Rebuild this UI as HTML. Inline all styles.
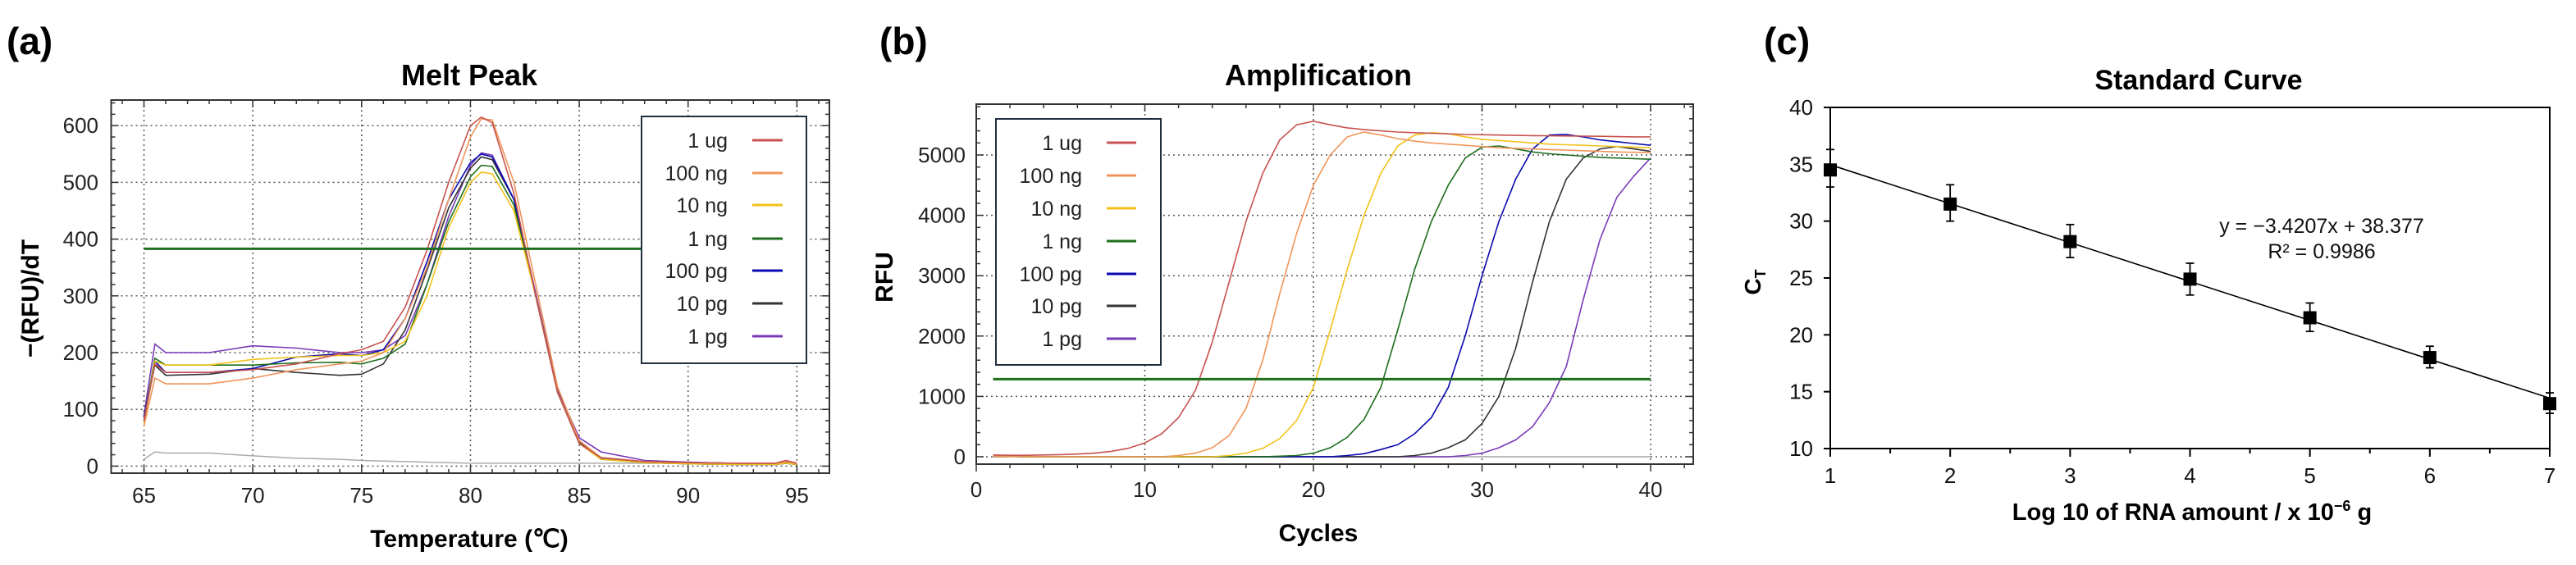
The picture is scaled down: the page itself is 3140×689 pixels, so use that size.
<!DOCTYPE html>
<html><head><meta charset="utf-8"><style>
html,body{margin:0;padding:0;background:#fff;}
svg{display:block;font-family:"Liberation Sans",Arial,sans-serif;}
</style></head><body>
<svg id="fig" width="3140" height="689" viewBox="0 0 3140 689" xmlns="http://www.w3.org/2000/svg">
<rect width="3140" height="689" fill="#fff"/>
<g id="pa"></g>
<g id="pb"></g>
<g id="pc"></g>
</svg>
<script>
// ---------- data ----------
const seriesNames = ["1 ug","100 ng","10 ng","1 ng","100 pg","10 pg","1 pg"];
const seriesColors = ["#c8524f","#f0955a","#f2c21a","#1e6e1e","#0a0ab0","#333333","#7a3ab8"];
// Melt peak
const meltTemps = [65,65.5,66,68,70,72,74,75,76,77,78,79,80,80.5,81,82,83,84,85,86,88,90,92,94,94.5,95];
const melt1ug  = [80,180,165,165,170,180,198,205,220,280,380,500,600,615,605,480,300,130,40,15,8,6,5,5,10,5];
const melt100ng= [70,155,145,145,155,170,180,185,200,260,350,470,580,612,610,500,320,140,45,15,8,6,5,5,8,4];
const melt10ng = [75,185,178,178,188,192,195,195,200,220,300,420,500,518,515,450,300,130,40,12,6,4,3,3,5,3];
const melt1ng  = [80,190,178,178,178,182,183,180,190,215,320,430,510,530,528,460,300,130,40,12,6,4,3,3,5,3];
const melt100pg= [85,185,165,165,172,192,198,195,205,260,360,470,535,550,545,470,300,130,40,13,6,4,3,3,5,3];
const melt10pg = [85,178,160,162,172,165,160,162,180,240,345,455,525,545,540,470,300,130,42,14,7,5,3,3,5,3];
const melt1pg  = [90,215,200,200,212,208,200,200,205,230,320,440,530,552,548,470,305,135,50,25,10,7,5,4,6,4];
const meltNtc  = [12,25,23,23,18,14,12,10,9,8,7,6,5,5,5,5,5,5,5,5,5,5,5,5,5,5];
const meltThreshold = 383;
const meltXTicks = [65,70,75,80,85,90,95];
const meltYTicks = [0,100,200,300,400,500,600];
// Amplification
const cycles = [1,2,3,4,5,6,7,8,9,10,11,12,13,14,15,16,17,18,19,20,21,22,23,24,25,26,27,28,29,30,31,32,33,34,35,36,37,38,39,40];
const amp1ug  = [30,25,25,30,35,45,60,90,140,230,380,650,1100,1900,2900,3900,4700,5250,5500,5560,5500,5450,5420,5400,5380,5370,5360,5350,5340,5335,5330,5325,5320,5318,5315,5312,5310,5305,5300,5300];
const amp100ng= [10,5,5,0,0,0,0,0,0,0,0,20,60,150,350,800,1600,2700,3700,4500,5000,5300,5380,5330,5270,5230,5200,5180,5160,5140,5120,5110,5100,5090,5080,5070,5060,5050,5045,5040];
const amp10ng = [10,5,0,0,0,0,0,0,0,0,0,0,0,0,20,60,140,300,600,1150,2100,3100,4000,4700,5150,5330,5370,5350,5300,5260,5240,5220,5200,5180,5170,5160,5150,5140,5130,5120];
const amp1ng  = [10,5,0,0,0,0,0,0,0,0,0,0,0,0,0,0,0,10,20,60,150,320,620,1150,2100,3100,3900,4500,4950,5130,5150,5100,5050,5020,5000,4980,4960,4950,4940,4930];
const amp100pg= [10,5,0,0,0,0,0,0,0,0,0,0,0,0,0,0,0,0,0,0,0,20,50,120,200,380,650,1150,2000,3000,3900,4600,5100,5330,5340,5300,5250,5220,5190,5160];
const amp10pg = [10,5,0,0,0,0,0,0,0,0,0,0,0,0,0,0,0,0,0,0,0,0,0,0,0,20,60,150,280,550,1000,1800,2900,3900,4600,4950,5100,5140,5100,5060];
const amp1pg  = [10,5,0,0,0,0,0,0,0,0,0,0,0,0,0,0,0,0,0,0,0,0,0,0,0,0,0,0,20,60,150,280,500,900,1500,2600,3600,4300,4650,4950];
const ampThreshold = 1285;
const ampXTicks = [0,10,20,30,40];
const ampYTicks = [0,1000,2000,3000,4000,5000];
// Standard curve
const logAmount = [1,2,3,4,5,6,7];
const ctValues = [34.5,31.5,28.2,24.9,21.5,18.0,13.95];
const ctErrLow = [33.0,30.0,26.8,23.5,20.3,17.1,13.1];
const ctErrHigh = [36.3,33.2,29.7,26.3,22.8,19.0,14.9];
const fitSlope = -3.4207;
const fitIntercept = 38.377;
const stdXTicks = [1,2,3,4,5,6,7];
const stdYTicks = [10,15,20,25,30,35,40];

const NS="http://www.w3.org/2000/svg";
function mk(parent,tag,attrs,text){const e=document.createElementNS(NS,tag);for(const k in attrs)e.setAttribute(k,attrs[k]);if(text!==undefined)e.textContent=text;parent.appendChild(e);return e;}

// ---------- Panel A ----------
(function(){
const g=document.getElementById('pa');
const L=135.5,R=1011,T=122,B=577;
const xa=t=>175.5+(t-65)*26.53, ya=v=>568.4-v*0.692;
let e;
e=mk(g,'text',{x:8,y:66,'font-size':46,'font-weight':'bold'},'(a)');


e=mk(g,'text',{x:572,y:104,'font-size':36,'font-weight':'bold','text-anchor':'middle'},'Melt Peak');


meltXTicks.forEach(t=>{const l=mk(g,'line',{x1:xa(t),x2:xa(t),y1:T,y2:B,stroke:'#555','stroke-width':1.5,'stroke-dasharray':'2,4'});});
meltYTicks.forEach(v=>{const l=mk(g,'line',{x1:L,x2:R,y1:ya(v),y2:ya(v),stroke:'#555','stroke-width':1.5,'stroke-dasharray':'2,4'});});
for(let t=63;t<=97;t++){const x=xa(t);if(x<L||x>R)continue;const len=(t%5===0)?9:5;mk(g,'line',{x1:x,x2:x,y1:B,y2:B-len,stroke:'#333','stroke-width':1.5});mk(g,'line',{x1:x,x2:x,y1:T,y2:T+len,stroke:'#333','stroke-width':1.5});}
for(let v=-20;v<=660;v+=20){const y=ya(v);if(y<T||y>B)continue;const len=(v%100===0)?9:5;mk(g,'line',{x1:L,x2:L+len,y1:y,y2:y,stroke:'#333','stroke-width':1.5});mk(g,'line',{x1:R,x2:R-len,y1:y,y2:y,stroke:'#333','stroke-width':1.5});}
e=mk(g,'rect',{x:L,y:T,width:R-L,height:B-T,fill:'none',stroke:'#333','stroke-width':2});


meltXTicks.forEach(t=>{const x=mk(g,'text',{x:xa(t),y:613,'font-size':26,'text-anchor':'middle',fill:'#222'},t);});
meltYTicks.forEach(v=>{const x=mk(g,'text',{x:120,y:ya(v)+9,'font-size':26,'text-anchor':'end',fill:'#222'},v);});
e=mk(g,'text',{x:572,y:667,'font-size':30,'font-weight':'bold','text-anchor':'middle'},'Temperature (℃)');


e=mk(g,'text',{x:0,y:0,'font-size':30,'font-weight':'bold','text-anchor':'middle',transform:'translate(47,364) rotate(-90)'},'−(RFU)/dT');


const pts=arr=>arr.map((v,i)=>xa(meltTemps[i]).toFixed(1)+','+ya(v).toFixed(1)).join(' ');
e=mk(g,'polyline',{points:pts(meltNtc),fill:'none',stroke:'#aaa','stroke-width':1.5});


const all=[melt1ug,melt100ng,melt10ng,melt1ng,melt100pg,melt10pg,melt1pg];
for(let i=all.length-1;i>=0;i--){const p=mk(g,'polyline',{points:pts(all[i]),fill:'none',stroke:seriesColors[i],'stroke-width':1.6});}
e=mk(g,'line',{x1:xa(65),x2:xa(95),y1:ya(meltThreshold),y2:ya(meltThreshold),stroke:'#1e6e1e','stroke-width':3});


const lg=mk(g,'g',{});


mk(lg,'rect',{x:782,y:142,width:201,height:301,fill:'#fff',stroke:'#1f2f3f','stroke-width':2});
const ly=[171,211,250,291,330,370,410];
seriesNames.forEach((n,i)=>{const t=mk(lg,'text',{x:887,y:ly[i]+9,'font-size':25,'text-anchor':'end',fill:'#222'},n);mk(lg,'line',{x1:917,x2:954,y1:ly[i],y2:ly[i],stroke:seriesColors[i],'stroke-width':3});});
})();

// ---------- Panel B ----------
(function(){
const g=document.getElementById('pb');
const L=1190,R=2064,T=127,B=566;
const xb=c=>1190+c*20.55, yb=v=>557-v*0.0736;
let e;
e=mk(g,'text',{x:1072,y:66,'font-size':46,'font-weight':'bold'},'(b)');


e=mk(g,'text',{x:1607,y:104,'font-size':36,'font-weight':'bold','text-anchor':'middle'},'Amplification');


ampXTicks.forEach(c=>{if(c===0)return;const l=mk(g,'line',{x1:xb(c),x2:xb(c),y1:T,y2:B,stroke:'#555','stroke-width':1.5,'stroke-dasharray':'2,4'});});
ampYTicks.forEach(v=>{const l=mk(g,'line',{x1:L,x2:R,y1:yb(v),y2:yb(v),stroke:'#555','stroke-width':1.5,'stroke-dasharray':'2,4'});});
for(let c=0;c<=42;c+=2){const x=xb(c);if(x>R)continue;const len=(c%10===0)?9:5;mk(g,'line',{x1:x,x2:x,y1:B,y2:B+len,stroke:'#333','stroke-width':1.5});mk(g,'line',{x1:x,x2:x,y1:T,y2:T+len,stroke:'#333','stroke-width':1.5});}
for(let v=0;v<=5800;v+=200){const y=yb(v);if(y<T)continue;const len=(v%1000===0)?9:5;mk(g,'line',{x1:L,x2:L+len,y1:y,y2:y,stroke:'#333','stroke-width':1.5});mk(g,'line',{x1:R,x2:R-len,y1:y,y2:y,stroke:'#333','stroke-width':1.5});}
e=mk(g,'rect',{x:L,y:T,width:R-L,height:B-T,fill:'none',stroke:'#333','stroke-width':2});


ampXTicks.forEach(c=>{const x=mk(g,'text',{x:xb(c),y:606,'font-size':26,'text-anchor':'middle',fill:'#222'},c);});
ampYTicks.forEach(v=>{const x=mk(g,'text',{x:1177,y:yb(v)+9,'font-size':26,'text-anchor':'end',fill:'#222'},v);});
e=mk(g,'text',{x:1607,y:660,'font-size':30,'font-weight':'bold','text-anchor':'middle'},'Cycles');


e=mk(g,'text',{x:0,y:0,'font-size':30,'font-weight':'bold','text-anchor':'middle',transform:'translate(1088,338) rotate(-90)'},'RFU');


e=mk(g,'line',{x1:xb(1),x2:xb(40),y1:yb(0),y2:yb(0),stroke:'#bbb','stroke-width':2});


const pts=arr=>arr.map((v,i)=>xb(cycles[i]).toFixed(1)+','+yb(v).toFixed(1)).join(' ');
const all=[amp1ug,amp100ng,amp10ng,amp1ng,amp100pg,amp10pg,amp1pg];
for(let i=all.length-1;i>=0;i--){const p=mk(g,'polyline',{points:pts(all[i]),fill:'none',stroke:seriesColors[i],'stroke-width':1.6});}
e=mk(g,'line',{x1:xb(1),x2:xb(40),y1:yb(ampThreshold),y2:yb(ampThreshold),stroke:'#1e6e1e','stroke-width':3});


const lg=mk(g,'g',{});


mk(lg,'rect',{x:1214,y:145,width:201,height:300,fill:'#fff',stroke:'#1f2f3f','stroke-width':2});
const ly=[174,214,254,294,334,373,413];
seriesNames.forEach((n,i)=>{const t=mk(lg,'text',{x:1319,y:ly[i]+9,'font-size':25,'text-anchor':'end',fill:'#222'},n);mk(lg,'line',{x1:1349,x2:1385,y1:ly[i],y2:ly[i],stroke:seriesColors[i],'stroke-width':3});});
})();

// ---------- Panel C ----------
(function(){
const g=document.getElementById('pc');
const L=2231,R=3108,T=131,B=547;
const xc=x=>L+(x-1)*(R-L)/6, yc=v=>B-(v-10)*(B-T)/30;
let e;
e=mk(g,'text',{x:2150,y:66,'font-size':46,'font-weight':'bold'},'(c)');


e=mk(g,'text',{x:2680,y:109,'font-size':34,'font-weight':'bold','text-anchor':'middle'},'Standard Curve');


e=mk(g,'rect',{x:L,y:T,width:R-L,height:B-T,fill:'none',stroke:'#000','stroke-width':2});


stdYTicks.forEach(v=>{mk(g,'line',{x1:L-8,x2:L,y1:yc(v),y2:yc(v),stroke:'#000','stroke-width':2});const t=mk(g,'text',{x:2210,y:yc(v)+9,'font-size':26,'text-anchor':'end',fill:'#111'},v);});
for(let x=1;x<=7;x+=0.5){const len=(x%1===0)?10:6;mk(g,'line',{x1:xc(x),x2:xc(x),y1:B,y2:B+len,stroke:'#000','stroke-width':2});}
stdXTicks.forEach(x=>{const t=mk(g,'text',{x:xc(x),y:589,'font-size':26,'text-anchor':'middle',fill:'#111'},x);});
e=mk(g,'text',{x:2672,y:634,'font-size':29,'font-weight':'bold','text-anchor':'middle'});


e.appendChild(document.createTextNode('Log 10 of RNA amount / x 10'));
mk(e,'tspan',{'font-size':18,dy:-11},'−6');
mk(e,'tspan',{dy:11},' g');
e=mk(g,'text',{x:0,y:0,'font-size':28,'font-weight':'bold','text-anchor':'middle',transform:'translate(2146,344) rotate(-90)'});


e.appendChild(document.createTextNode('C'));
mk(e,'tspan',{'font-size':18,dy:6},'T');
e=mk(g,'line',{x1:xc(1),x2:xc(7),y1:yc(fitSlope*1+fitIntercept),y2:yc(fitSlope*7+fitIntercept),stroke:'#000','stroke-width':1.6});


logAmount.forEach((x,i)=>{
 const eb=mk(g,'g',{});
 
 
 mk(eb,'line',{x1:xc(x),x2:xc(x),y1:yc(ctErrLow[i]),y2:yc(ctErrHigh[i]),stroke:'#000','stroke-width':1.8});
 mk(eb,'line',{x1:xc(x)-5,x2:xc(x)+5,y1:yc(ctErrLow[i]),y2:yc(ctErrLow[i]),stroke:'#000','stroke-width':1.8});
 mk(eb,'line',{x1:xc(x)-5,x2:xc(x)+5,y1:yc(ctErrHigh[i]),y2:yc(ctErrHigh[i]),stroke:'#000','stroke-width':1.8});
 const m=mk(g,'rect',{x:xc(x)-8,y:yc(ctValues[i])-8,width:16,height:16,fill:'#000'});
 
 
});
e=mk(g,'text',{x:2830,y:284,'font-size':25,'text-anchor':'middle',fill:'#111'},'y = −3.4207x + 38.377');


e=mk(g,'text',{x:2830,y:315,'font-size':25,'text-anchor':'middle',fill:'#111'},'R² = 0.9986');


})();
</script>
</body></html>
